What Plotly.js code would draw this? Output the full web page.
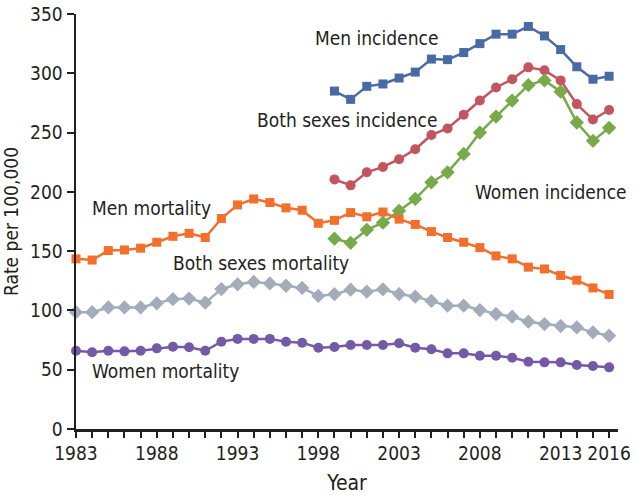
<!DOCTYPE html>
<html>
<head>
<meta charset="utf-8">
<script src="https://cdn.plot.ly/plotly-3.0.1.min.js"></script>
<style>
html,body{margin:0;padding:0;background:#fff;}
#chart{width:637px;height:495px;}
</style>
</head>
<body>
<div id="chart"></div>
<script>
const years = [1983,1984,1985,1986,1987,1988,1989,1990,1991,1992,1993,1994,1995,1996,1997,1998,1999,2000,2001,2002,2003,2004,2005,2006,2007,2008,2009,2010,2011,2012,2013,2014,2015,2016];
const incYears = [1999,2000,2001,2002,2003,2004,2005,2006,2007,2008,2009,2010,2011,2012,2013,2014,2015,2016];

const menIncidence = [285,278,289,291,296,301,312,311.5,317.5,325,333,333,339.5,331.5,320,305.5,295,297.5];
const bothIncidence = [210.5,205.5,216.5,221,227.5,236,248,253.5,265,277,288,295,305,302.5,294,274,261,269];
const womenIncidence = [160.5,157,168,174,184,194,208,216.5,232,250,263.5,277,290,294,284.5,258.5,243,254];

const menMortality = [143.5,142.5,150.5,151,152.5,157.5,162.5,165,161.5,177.5,189,194,191,186.5,184.5,173.5,176,182.5,179,183,177,172.5,166.5,161.5,157.5,153,146,143.5,136.5,135,129.5,125.5,119,113.5];
const bothMortality = [98.5,98.5,102.5,102.5,102.5,106,109.5,110,106.5,118,122,124,122.8,120.8,119,112.2,113.7,117.5,115.8,117.8,113.8,111.6,108,104,104,100.3,97,94.7,90.5,88.5,86.8,85.7,81.5,78.7];
const womenMortality = [66,64.8,66,65.5,66,68,69.4,69,66,73.6,76,76,76,73.6,72.8,68.5,69.2,70.8,70.8,70.8,72.3,68.6,67.2,63.8,63.8,61.8,61.8,60.1,56.7,56.2,56.2,54,53.1,52];

const xTickVals = [1983,1988,1993,1998,2003,2008,2013,2016];
const xTickLabels = ['1983','1988','1993','1998','2003','2008','2013','2016'];
const yTickVals = [0,50,100,150,200,250,300,350];

const seriesNames = ['Men incidence','Both sexes incidence','Women incidence','Men mortality','Both sexes mortality','Women mortality'];
const labelX = [1997.65, 1994.05, 2007.55, 1983.85, 1988.9, 1983.85];
const labelY = [329.5, 260.5, 200, 186, 140, 48.5];

const FONT = '"Liberation Sans Narrow", "Arial Narrow", "DejaVu Sans Condensed", sans-serif';
const INK = '#231f20';

function tr(x, y, name, color, symbol, size){
  return {x:x, y:y, name:name, type:'scatter', mode:'lines+markers', cliponaxis:false,
    line:{color:color, width:2.5}, marker:{color:color, symbol:symbol, size:size}};
}

const data = [
  tr(incYears, menIncidence, seriesNames[0], '#4a6aa5', 'square', 9),
  tr(incYears, bothIncidence, seriesNames[1], '#c2555f', 'circle', 10),
  tr(incYears, womenIncidence, seriesNames[2], '#78aa4a', 'diamond', 11),
  tr(years, menMortality, seriesNames[3], '#f26f2c', 'square', 9),
  tr(years, bothMortality, seriesNames[4], '#a2adb9', 'diamond', 11),
  tr(years, womenMortality, seriesNames[5], '#7459a6', 'circle', 10)
];

const annotations = seriesNames.map((n,i)=>({
  x: labelX[i], y: labelY[i], xref:'x', yref:'y', text:n, showarrow:false,
  xanchor:'left', yanchor:'middle',
  font:{family:FONT, size:19, color:INK}
}));

const layout = {
  width:637, height:495,
  margin:{l:76, r:19, t:14, b:66},
  paper_bgcolor:'#fff', plot_bgcolor:'#fff',
  showlegend:false,
  font:{family:FONT, color:INK, size:18},
  xaxis:{
    range:[1983, 2016.55], showgrid:false, zeroline:false,
    showline:true, linecolor:INK, linewidth:2.5,
    ticks:'outside', ticklen:6, tickwidth:2, tickcolor:INK,
    tickvals:xTickVals, ticktext:xTickLabels,
    minor:{dtick:1, tick0:1983, ticks:'outside', ticklen:6, tickwidth:2, tickcolor:INK, showgrid:false},
    tickfont:{family:FONT, size:19, color:INK},
    title:{text:'Year', font:{family:FONT, size:21, color:INK}, standoff:14}
  },
  yaxis:{
    range:[0,350], showgrid:false, zeroline:false,
    showline:true, linecolor:INK, linewidth:2.5,
    ticks:'outside', ticklen:7, tickwidth:2, tickcolor:INK,
    tickvals:yTickVals,
    tickfont:{family:FONT, size:19, color:INK},
    title:{text:'Rate per 100,000', font:{family:FONT, size:19, color:INK}, standoff:8}
  },
  annotations: annotations
};

Plotly.newPlot('chart', data, layout, {displayModeBar:false, staticPlot:true});
</script>
</body>
</html>
